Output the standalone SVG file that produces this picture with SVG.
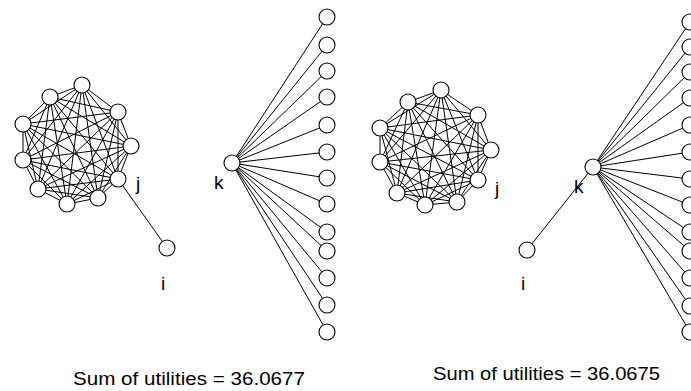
<svg xmlns="http://www.w3.org/2000/svg" width="691" height="391" viewBox="0 0 691 391">
<style>
.e{stroke:#000;stroke-width:1;fill:none}
.n circle{fill:#fff;stroke:#000;stroke-width:1.1}
.t{font-family:"Liberation Sans",Arial,sans-serif;font-size:19px;fill:#000}
.s{font-family:"Liberation Sans",Arial,sans-serif;font-size:18px;fill:#000}
</style>
<rect width="691" height="391" fill="#fff"/>
<g id="connectors" class="e">
<path d="M82 85L50 97M82 85L118 112M82 85L23 124M82 85L131 146M82 85L23 160M82 85L118 179M82 85L38 189M82 85L98 198M82 85L67 204"/>
<path d="M50 97L118 112M50 97L23 124M50 97L131 146M50 97L23 160M50 97L118 179M50 97L38 189M50 97L98 198M50 97L67 204"/>
<path d="M118 112L23 124M118 112L131 146M118 112L23 160M118 112L118 179M118 112L38 189M118 112L98 198M118 112L67 204"/>
<path d="M23 124L131 146M23 124L23 160M23 124L118 179M23 124L38 189M23 124L98 198M23 124L67 204"/>
<path d="M131 146L23 160M131 146L118 179M131 146L38 189M131 146L98 198M131 146L67 204"/>
<path d="M23 160L118 179M23 160L38 189M23 160L98 198M23 160L67 204"/>
<path d="M118 179L38 189M118 179L98 198M118 179L67 204"/>
<path d="M38 189L98 198M38 189L67 204M98 198L67 204"/>
<path d="M118 179L167 248"/>
<path d="M232 163L327 17M232 163L327 45M232 163L327 71M232 163L327 97M232 163L327 125M232 163L327 152M232 163L327 178M232 163L327 204M232 163L327 232M232 163L327 251M232 163L327 278M232 163L327 305M232 163L327 332"/>
<path d="M441 90L408 102M441 90L478 115M441 90L380 128M441 90L491 150M441 90L380 162M441 90L478 180M441 90L397 193M441 90L457 202M441 90L425 205"/>
<path d="M408 102L478 115M408 102L380 128M408 102L491 150M408 102L380 162M408 102L478 180M408 102L397 193M408 102L457 202M408 102L425 205"/>
<path d="M478 115L380 128M478 115L491 150M478 115L380 162M478 115L478 180M478 115L397 193M478 115L457 202M478 115L425 205"/>
<path d="M380 128L491 150M380 128L380 162M380 128L478 180M380 128L397 193M380 128L457 202M380 128L425 205"/>
<path d="M491 150L380 162M491 150L478 180M491 150L397 193M491 150L457 202M491 150L425 205"/>
<path d="M380 162L478 180M380 162L397 193M380 162L457 202M380 162L425 205"/>
<path d="M478 180L397 193M478 180L457 202M478 180L425 205"/>
<path d="M397 193L457 202M397 193L425 205M457 202L425 205"/>
<path d="M593 167L527 250"/>
<path d="M593 167L690 22M593 167L690 47M593 167L690 72M593 167L690 98M593 167L690 125M593 167L690 152M593 167L690 179M593 167L690 205M593 167L690 232M593 167L690 251M593 167L690 278M593 167L690 306M593 167L690 332"/>
</g>
<g class="n">
<g id="L0"><circle cx="82" cy="85" r="8"/></g>
<g id="L1"><circle cx="50" cy="97" r="8"/></g>
<g id="L2"><circle cx="118" cy="112" r="8"/></g>
<g id="L3"><circle cx="23" cy="124" r="8"/></g>
<g id="L4"><circle cx="131" cy="146" r="8"/></g>
<g id="L5"><circle cx="23" cy="160" r="8"/></g>
<g id="Lj"><circle cx="118" cy="179" r="8"/><text class="t" x="136" y="190">j</text></g>
<g id="L7"><circle cx="38" cy="189" r="8"/></g>
<g id="L8"><circle cx="98" cy="198" r="8"/></g>
<g id="L9"><circle cx="67" cy="204" r="8"/></g>
<g id="Li"><circle cx="167" cy="248" r="8"/><text class="t" x="161" y="290">i</text></g>
<g id="Lk"><circle cx="232" cy="163" r="8"/><text class="t" x="214" y="189">k</text></g>
<g id="Ls1"><circle cx="327" cy="17" r="8"/></g>
<g id="Ls2"><circle cx="327" cy="45" r="8"/></g>
<g id="Ls3"><circle cx="327" cy="71" r="8"/></g>
<g id="Ls4"><circle cx="327" cy="97" r="8"/></g>
<g id="Ls5"><circle cx="327" cy="125" r="8"/></g>
<g id="Ls6"><circle cx="327" cy="152" r="8"/></g>
<g id="Ls7"><circle cx="327" cy="178" r="8"/></g>
<g id="Ls8"><circle cx="327" cy="204" r="8"/></g>
<g id="Ls9"><circle cx="327" cy="232" r="8"/></g>
<g id="Ls10"><circle cx="327" cy="251" r="8"/></g>
<g id="Ls11"><circle cx="327" cy="278" r="8"/></g>
<g id="Ls12"><circle cx="327" cy="305" r="8"/></g>
<g id="Ls13"><circle cx="327" cy="332" r="8"/></g>
<g id="R0"><circle cx="441" cy="90" r="8"/></g>
<g id="R1"><circle cx="408" cy="102" r="8"/></g>
<g id="R2"><circle cx="478" cy="115" r="8"/></g>
<g id="R3"><circle cx="380" cy="128" r="8"/></g>
<g id="R4"><circle cx="491" cy="150" r="8"/></g>
<g id="R5"><circle cx="380" cy="162" r="8"/></g>
<g id="Rj"><circle cx="478" cy="180" r="8"/><text class="t" x="495" y="195">j</text></g>
<g id="R7"><circle cx="397" cy="193" r="8"/></g>
<g id="R8"><circle cx="457" cy="202" r="8"/></g>
<g id="R9"><circle cx="425" cy="205" r="8"/></g>
<g id="Ri"><circle cx="527" cy="250" r="8"/><text class="t" x="521" y="290">i</text></g>
<g id="Rk"><circle cx="593" cy="167" r="8"/><text class="t" x="574" y="193">k</text></g>
<g id="Rs1"><circle cx="690" cy="22" r="8"/></g>
<g id="Rs2"><circle cx="690" cy="47" r="8"/></g>
<g id="Rs3"><circle cx="690" cy="72" r="8"/></g>
<g id="Rs4"><circle cx="690" cy="98" r="8"/></g>
<g id="Rs5"><circle cx="690" cy="125" r="8"/></g>
<g id="Rs6"><circle cx="690" cy="152" r="8"/></g>
<g id="Rs7"><circle cx="690" cy="179" r="8"/></g>
<g id="Rs8"><circle cx="690" cy="205" r="8"/></g>
<g id="Rs9"><circle cx="690" cy="232" r="8"/></g>
<g id="Rs10"><circle cx="690" cy="251" r="8"/></g>
<g id="Rs11"><circle cx="690" cy="278" r="8"/></g>
<g id="Rs12"><circle cx="690" cy="306" r="8"/></g>
<g id="Rs13"><circle cx="690" cy="332" r="8"/></g>
</g>
<text class="s" x="73" y="385" textLength="232" lengthAdjust="spacingAndGlyphs">Sum of utilities = 36.0677</text>
<text class="s" x="433" y="380" textLength="227" lengthAdjust="spacingAndGlyphs">Sum of utilities = 36.0675</text>
</svg>
